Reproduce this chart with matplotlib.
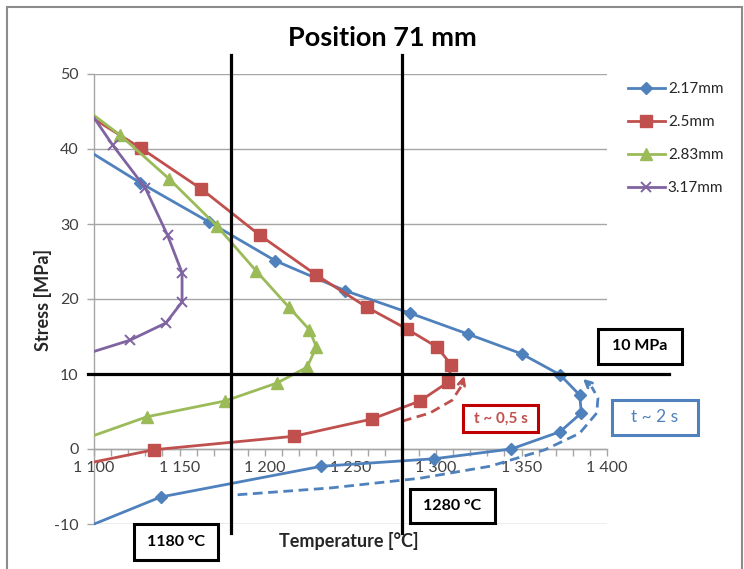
import matplotlib
matplotlib.use("Agg")
import matplotlib.pyplot as plt
from matplotlib.patches import Rectangle
from matplotlib.ticker import MultipleLocator, FixedLocator
import numpy as np

plt.rcParams['font.family'] = ['Lato', 'DejaVu Sans']
plt.rcParams['axes.unicode_minus'] = False

# ---------------- data ----------------
series_labels = ["2.17mm", "2.5mm", "2.83mm", "3.17mm"]

t_217 = [1078, 1127, 1167, 1206, 1247, 1285, 1319, 1350, 1372.5, 1384, 1385, 1372.5, 1344, 1299, 1233, 1139, 1098]
s_217 = [42.4, 35.5, 30.3, 25.1, 21.1, 18.1, 15.3, 12.7, 9.9, 7.2, 4.8, 2.3, 0.0, -1.3, -2.3, -6.4, -10.2]

t_25 = [1088, 1127.5, 1162.6, 1197, 1230, 1259.6, 1283, 1300.6, 1309, 1307, 1290.6, 1262.6, 1217, 1135, 1090]
s_25 = [45.7, 40.1, 34.7, 28.5, 23.2, 18.9, 16.0, 13.6, 11.2, 8.9, 6.4, 4.0, 1.7, -0.1, -2.2]

t_283 = [1090, 1115, 1144, 1172, 1195, 1214, 1226, 1230, 1224.6, 1207, 1176.6, 1131, 1090]
s_283 = [46.2, 41.9, 36.0, 29.7, 23.7, 18.9, 15.9, 13.6, 10.9, 8.8, 6.4, 4.3, 1.0]

t_317 = [1093, 1111, 1130, 1143, 1151.5, 1151.5, 1142, 1121, 1090]
s_317 = [46.5, 40.5, 34.8, 28.5, 23.5, 19.6, 16.8, 14.5, 12.3]

x_ticks = [1100, 1150, 1200, 1250, 1300, 1350, 1400]
x_tick_labels = ["1 100", "1 150", "1 200", "1 250", "1 300", "1 350", "1 400"]
y_ticks = [-10, 0, 10, 20, 30, 40, 50]

ref_temps = [1180, 1280]
ref_stress = 10

# annotation paths (dashed arrows)
red_path_t = [1280.1, 1296.5, 1309.4, 1314.6, 1317]
red_path_s = [3.7, 4.8, 6.5, 8.3, 10.1]
blue_path_t = [1184, 1238, 1290.6, 1331.6, 1363.7, 1384, 1394, 1394.7, 1391, 1384.8]
blue_path_s = [-6.1, -5.2, -3.9, -2.3, -0.1, 2.1, 4.8, 6.8, 8.3, 9.6]

# ---------------- style ----------------
C_BLUE = "#4F81BD"
C_RED = "#C0504D"
C_GREEN = "#9BBB59"
C_PURPLE = "#8064A2"

W, H = 744, 569
fig = plt.figure(figsize=(W / 100, H / 100), dpi=100)

def fx(px):
    return px / W

def fy(py):
    return 1 - py / H

ax = fig.add_axes([fx(94), fy(524), fx(607) - fx(94), fy(74) - fy(524)])
ax.set_xlim(1100, 1400)
ax.set_ylim(-10, 50)

# grid
ax.yaxis.set_major_locator(FixedLocator(y_ticks))
ax.grid(axis='y', color='#A6A6A6', linewidth=1.0)
ax.set_axisbelow(True)

for sp in ['top', 'right']:
    ax.spines[sp].set_visible(False)
ax.spines['left'].set_color('#A6A6A6')
ax.spines['left'].set_linewidth(1.0)
ax.spines['bottom'].set_position(('data', 0))
ax.spines['bottom'].set_color('#A6A6A6')
ax.spines['bottom'].set_linewidth(1.0)

ax.xaxis.set_major_locator(FixedLocator(x_ticks))
ax.set_xticklabels(x_tick_labels)
ax.xaxis.set_minor_locator(MultipleLocator(10))
ax.tick_params(axis='x', which='both', direction='out', length=5, width=1, color='#A6A6A6',
               labelsize=11.5, labelcolor='#404040', pad=4)
ax.tick_params(axis='y', which='major', direction='out', length=5, width=1, color='#A6A6A6',
               labelsize=11.5, labelcolor='#404040', pad=6)

# series
lw = 2.0
ax.plot(t_217, s_217, color=C_BLUE, lw=lw, marker='D', ms=6.5, label=series_labels[0], zorder=5)
ax.plot(t_25, s_25, color=C_RED, lw=lw, marker='s', ms=8.5, label=series_labels[1], zorder=5)
ax.plot(t_283, s_283, color=C_GREEN, lw=lw, marker='^', ms=8.5, label=series_labels[2], zorder=5)
ax.plot(t_317, s_317, color=C_PURPLE, lw=lw, marker='x', ms=7, mew=1.4, label=series_labels[3], zorder=5)

# reference lines (extend beyond axes)
for t in ref_temps:
    ax.plot([t, t], [-11.2, 52.5], color='black', lw=2.3, clip_on=False, zorder=6)
ax.plot([1096.5, 1436], [ref_stress, ref_stress], color='black', lw=2.3, clip_on=False, zorder=6)

# dashed arrows
ax.plot(red_path_t[:-1], red_path_s[:-1], color=C_RED, lw=2.0, ls=(0, (3.5, 2)), zorder=4)
ax.annotate("", xy=(red_path_t[-1], red_path_s[-1]), xytext=(red_path_t[-2], red_path_s[-2]),
            arrowprops=dict(arrowstyle='->', color=C_RED, lw=2.0, mutation_scale=12),
            zorder=4)
ax.plot(blue_path_t[:-1], blue_path_s[:-1], color=C_BLUE, lw=2.0, ls=(0, (3.5, 2)), zorder=4)
ax.annotate("", xy=(blue_path_t[-1], blue_path_s[-1]), xytext=(blue_path_t[-2], blue_path_s[-2]),
            arrowprops=dict(arrowstyle='->', color=C_BLUE, lw=2.0, mutation_scale=12),
            zorder=4)

# labels
fig.text(fx(382), fy(38), "Position 71 mm", ha='center', va='center', fontsize=19.5, fontweight='bold')
fig.text(fx(43), fy(300), "Stress [MPa]", ha='center', va='center', rotation=90, fontsize=13,
         fontweight='bold', color='#262626')
fig.text(fx(349), fy(541), "Temperature [°C]", ha='center', va='center', fontsize=13,
         fontweight='bold', color='#262626')

# legend
leg = ax.legend(loc='upper left', bbox_to_anchor=(fx(622), fy(76)), bbox_transform=fig.transFigure,
                frameon=False, fontsize=11, handlelength=2.4, labelspacing=1.25, handletextpad=0.2,
                borderaxespad=0)
for txt in leg.get_texts():
    txt.set_color('#262626')

# boxes
def box(x0, y0, x1, y1, text, ec, tc, fs=11, weight='bold'):
    r = Rectangle((fx(x0), fy(y1)), fx(x1) - fx(x0), fy(y0) - fy(y1), transform=fig.transFigure,
                  facecolor='white', edgecolor=ec, lw=2.2, zorder=10)
    fig.add_artist(r)
    fig.text(fx((x0 + x1) / 2), fy((y0 + y1) / 2), text, ha='center', va='center', fontsize=fs,
             fontweight=weight, color=tc, zorder=11)

box(598, 329, 682, 364, "10 MPa", 'black', 'black', fs=11.5)
box(612, 400, 698, 435, "t ~ 2 s", C_BLUE, C_BLUE, fs=12.5, weight='normal')
box(463, 405, 538, 432, "t ~ 0,5 s", '#C00000', C_RED, fs=11)
box(410, 489, 495, 523, "1280 °C", 'black', 'black', fs=11.5)
box(134, 524, 218, 560, "1180 °C", 'black', 'black', fs=11.5)

# outer chart border
fig.add_artist(Rectangle((fx(7), fy(575)), fx(742) - fx(7), fy(7) - fy(575), transform=fig.transFigure,
                         facecolor='none', edgecolor='#8C8C8C', lw=1.5, clip_on=False))

fig.savefig("out.png", dpi=100)
